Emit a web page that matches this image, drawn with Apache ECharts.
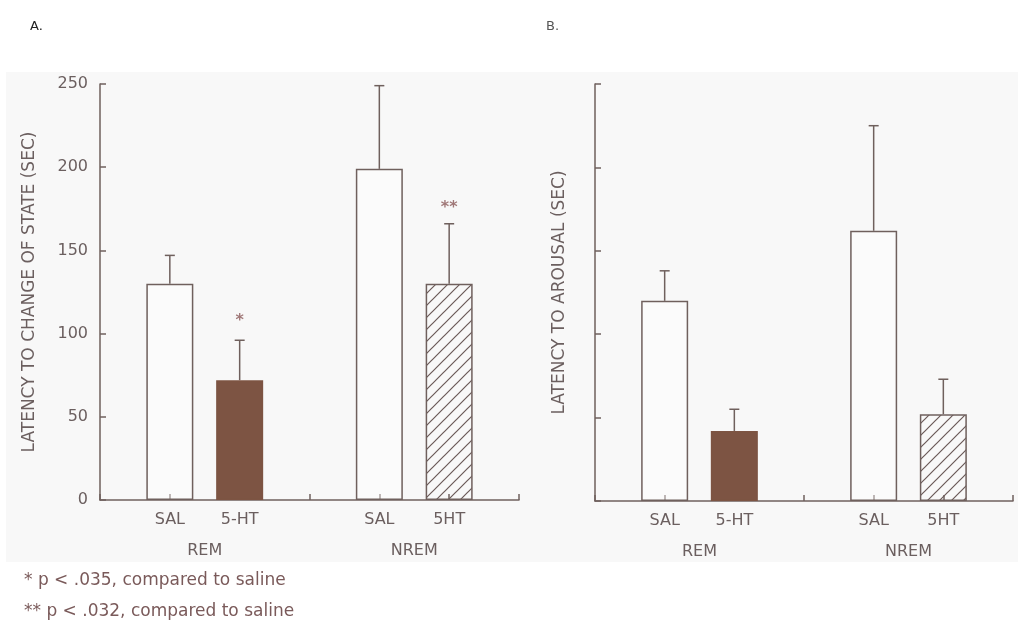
<!DOCTYPE html>
<html>
<head>
<meta charset="utf-8">
<script src="https://cdn.jsdelivr.net/npm/echarts@6/dist/echarts.min.js"></script>
<style>
html,body{margin:0;padding:0;background:#ffffff;}
#chart{width:1018px;height:636px;}
</style>
</head>
<body>
<div id="chart"></div>
<script>
// ---- data ----
const categories = ['', 'SAL', '5-HT', '', 'SAL', '5HT', ''];
const groups = ['REM', 'NREM'];
const barPositions = [1, 2, 4, 5];
const yTicks = [0, 50, 100, 150, 200, 250];

const changeMeans = [130, 72, 199, 130];
const changeErrTops = [147, 96, 249, 166];
const arousalMeans = [120, 42, 162, 52];
const arousalErrTops = [138, 55, 225, 73];

const starTexts = ['*', '**'];
const starPositions = [2, 5];
const starValues = [109, 177];

const panelLabels = ['A.', 'B.'];
const footnotes = ['* p < .035, compared to saline', '** p < .032, compared to saline'];
const yNames = ['LATENCY TO CHANGE OF STATE (SEC)', 'LATENCY TO AROUSAL (SEC)'];

// ---- styling ----
const FONT = 'DejaVu Sans';
const AXIS = '#6f605d';
const TEXT = '#6b5f5f';
const BROWN = '#7d5443';

function hatch() {
  const c = document.createElement('canvas');
  c.width = 12; c.height = 12;
  const g = c.getContext('2d');
  g.strokeStyle = '#6a5a58';
  g.lineWidth = 1.2;
  g.beginPath();
  g.moveTo(-1, 13); g.lineTo(13, -1);
  g.moveTo(-7, 7); g.lineTo(7, -7);
  g.moveTo(5, 19); g.lineTo(19, 5);
  g.stroke();
  return c;
}
const hatchPattern = { image: hatch(), repeat: 'repeat' };
const fills = ['rgba(255,255,255,0.4)', BROWN, 'rgba(255,255,255,0.4)', hatchPattern];

function barData(means) {
  const arr = categories.map(() => null);
  means.forEach((v, i) => {
    arr[barPositions[i]] = {
      value: v,
      itemStyle: {
        color: fills[i],
        borderColor: i === 1 ? BROWN : AXIS,
        borderWidth: 1.5
      }
    };
  });
  return arr;
}
function errData(means, tops) {
  return means.map((v, i) => [barPositions[i], v, tops[i]]);
}
function renderErr(params, api) {
  const x = api.value(0);
  const p0 = api.coord([x, api.value(1)]);
  const p1 = api.coord([x, api.value(2)]);
  const st = { stroke: AXIS, lineWidth: 1.5 };
  return {
    type: 'group',
    children: [
      { type: 'line', shape: { x1: p0[0], y1: p0[1], x2: p1[0], y2: p1[1] }, style: st },
      { type: 'line', shape: { x1: p1[0] - 5, y1: p1[1], x2: p1[0] + 5, y2: p1[1] }, style: st }
    ]
  };
}

const grids = [
  { left: 100, top: 84, width: 419, height: 416 },
  { left: 595, top: 84, width: 418, height: 417 }
];

const xAxes = [];
const yAxes = [];
[0, 1].forEach(g => {
  xAxes.push({
    type: 'category', gridIndex: g, data: categories, boundaryGap: false,
    axisLine: { lineStyle: { color: AXIS, width: 1.5 } },
    axisTick: { inside: true, length: 6, interval: 0, lineStyle: { color: AXIS, width: 1.5 } },
    axisLabel: { interval: 0, margin: 12, color: TEXT, fontFamily: FONT, fontSize: 16 },
    splitLine: { show: false }
  });
  xAxes.push({
    type: 'value', gridIndex: g, min: 0, max: categories.length - 1, interval: 1.5,
    position: 'bottom',
    axisLine: { show: false }, axisTick: { show: false }, splitLine: { show: false },
    axisLabel: {
      margin: 43, color: TEXT, fontFamily: FONT, fontSize: 16,
      showMinLabel: true, showMaxLabel: true,
      formatter: v => {
        const a = (barPositions[0] + barPositions[1]) / 2;
        const b = (barPositions[2] + barPositions[3]) / 2;
        return v === a ? groups[0] : (v === b ? groups[1] : '');
      }
    }
  });
  yAxes.push({
    type: 'value', gridIndex: g, min: yTicks[0], max: yTicks[yTicks.length - 1], interval: 50,
    name: yNames[g], nameLocation: 'middle', nameGap: g === 0 ? 62 : 27, nameRotate: 90,
    nameTextStyle: { color: TEXT, fontFamily: FONT, fontSize: 17 },
    axisLine: { show: true, lineStyle: { color: AXIS, width: 1.5 } },
    axisTick: { show: true, inside: true, length: 6, lineStyle: { color: AXIS, width: 1.5 } },
    axisLabel: { show: g === 0, margin: 12, color: TEXT, fontFamily: FONT, fontSize: 16 },
    splitLine: { show: false }
  });
});

const series = [];
[[changeMeans, changeErrTops], [arousalMeans, arousalErrTops]].forEach((d, g) => {
  series.push({
    type: 'bar', xAxisIndex: g * 2, yAxisIndex: g, data: barData(d[0]),
    barWidth: 47, barGap: '-100%', z: 3, silent: true
  });
  series.push({
    type: 'custom', xAxisIndex: g * 2, yAxisIndex: g, data: errData(d[0], d[1]),
    renderItem: renderErr, z: 2, silent: true
  });
});
series.push({
  type: 'scatter', xAxisIndex: 0, yAxisIndex: 0, symbolSize: 0, silent: true,
  data: starPositions.map((p, i) => ({ value: [p, starValues[i]], name: starTexts[i] })),
  label: {
    show: true, position: 'inside', formatter: p => p.name, offset: [0, 2],
    color: '#8a5858', fontFamily: FONT, fontSize: 16, fontWeight: 'bold'
  }
});

const chart = echarts.init(document.getElementById('chart'), null, { renderer: 'canvas' });
chart.setOption({
  backgroundColor: '#ffffff',
  animation: false,
  graphic: [
    { type: 'rect', z: -10, shape: { x: 6, y: 72, width: 1012, height: 490 }, style: { fill: '#f8f8f8' } },
    { type: 'text', left: 30, top: 20, style: { text: panelLabels[0], fill: '#222', font: '13px ' + FONT } },
    { type: 'text', left: 546, top: 20, style: { text: panelLabels[1], fill: '#555', font: '13px ' + FONT } },
    { type: 'text', left: 24, top: 572, style: { text: footnotes[0], fill: '#7a5a5a', font: '17px ' + FONT } },
    { type: 'text', left: 24, top: 603, style: { text: footnotes[1], fill: '#7a5a5a', font: '17px ' + FONT } }
  ],
  grid: grids,
  xAxis: xAxes,
  yAxis: yAxes,
  series: series
});
</script>
</body>
</html>
